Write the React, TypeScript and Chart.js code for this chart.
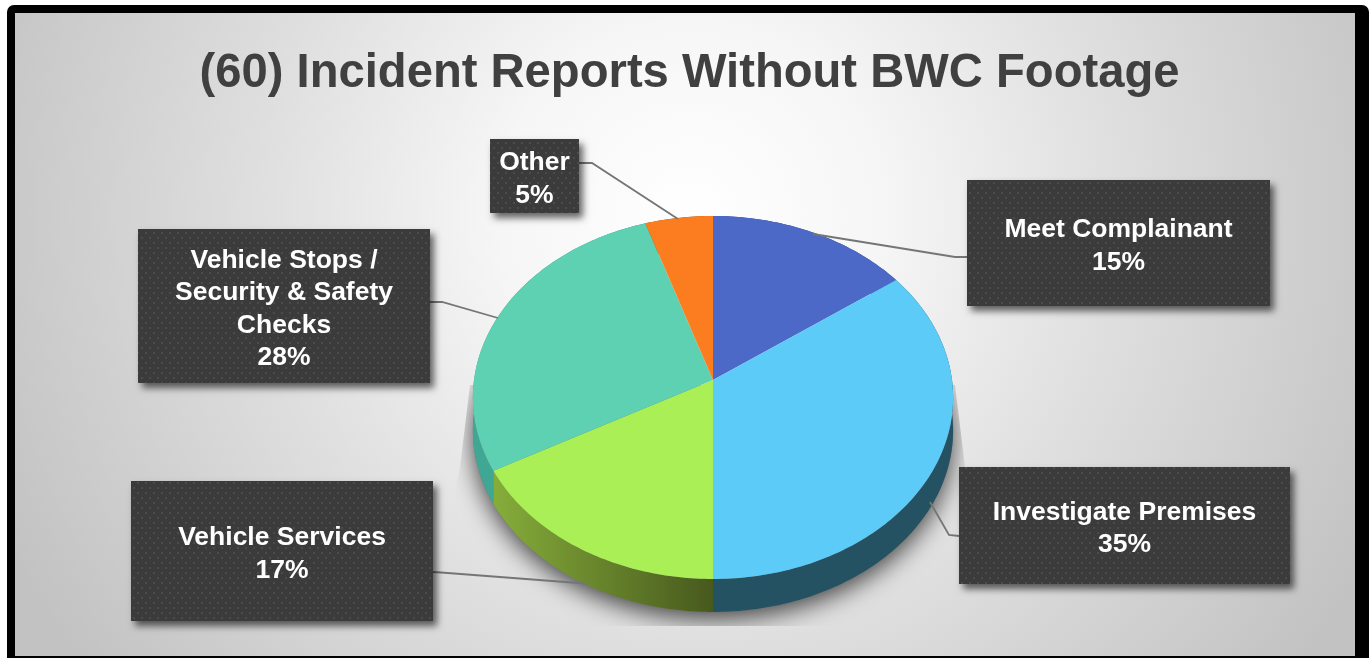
import React, { useEffect, useRef } from "react";
import { Chart, registerables } from "chart.js";

Chart.register(...registerables);

const chartTitle = "(60) Incident Reports Without BWC Footage";
const categories = ["Meet Complainant", "Investigate Premises", "Vehicle Services", "Vehicle Stops / Security & Safety Checks", "Other"];
const percentages = [15, 35, 17, 28, 5];
const categoryLines = [["Meet Complainant"], ["Investigate Premises"], ["Vehicle Services"], ["Vehicle Stops /", "Security & Safety", "Checks"], ["Other"]];
const faceColors = ["#4d69c8", "#5dcbf7", "#aaef55", "#5fd1b3", "#fc7d1f"];
const wallColors = [["#2c3d75", "#2c3d75"], ["#255263", "#255263"], ["#86ad3a", "#47591d"], ["#3fa793", "#2f7f70"], ["#9c4d13", "#9c4d13"]];

// Pixel rectangles of the callout boxes and their leader lines, in slice order.
const calloutBoxes = [
  [967, 180, 303, 126],
  [959, 467, 331, 117],
  [131, 481, 302, 140],
  [138, 229, 292, 154],
  [490, 139, 89, 74],
];
const leaderPaths = [
  [[813, 234], [955, 257], [967, 257]],
  [[930, 502], [949, 535], [959, 536]],
  [[433, 572], [441, 572.5], [585, 583.5]],
  [[430, 302], [442, 302], [498, 318]],
  [[579, 163], [592, 163], [678, 219]],
];

// The disc is tilted: a projective map of the unit circle, so the hub sits above the rim's middle.
const TILT = 0.0964;
const SQUASH = 0.7523;
const WALL_DEPTH = 33;
const FONT = '"Liberation Sans", Arial, sans-serif';

type Pt = [number, number];

function rimPoint(arc: any, angle: number, drop = 0): Pt {
  const u = Math.cos(angle);
  const v = -Math.sin(angle);
  const d = 1 + TILT * v;
  return [arc.x + (arc.outerRadius * u) / d, arc.y - (arc.outerRadius * SQUASH * v) / d + drop];
}

function traceRim(ctx: CanvasRenderingContext2D, arc: any, a: number, b: number, drop: number, first: boolean) {
  const steps = Math.max(4, Math.ceil(Math.abs(b - a) * 60));
  for (let i = 0; i <= steps; i++) {
    const p = rimPoint(arc, a + ((b - a) * i) / steps, drop);
    if (first && i === 0) ctx.moveTo(p[0], p[1]);
    else ctx.lineTo(p[0], p[1]);
  }
}

function dotPattern(ctx: CanvasRenderingContext2D) {
  const tile = document.createElement("canvas");
  tile.width = 8;
  tile.height = 10;
  const t = tile.getContext("2d")!;
  t.fillStyle = "#3b3b3b";
  t.fillRect(0, 0, 8, 10);
  t.fillStyle = "#4b4b4b";
  t.fillRect(1, 2, 2, 2);
  t.fillRect(5, 7, 2, 2);
  return ctx.createPattern(tile, "repeat")!;
}

const tiltedPie = {
  id: "tiltedPie",
  beforeDraw(chart: any) {
    const { ctx, width, height } = chart;
    ctx.save();
    ctx.fillStyle = "#ffffff";
    ctx.fillRect(0, 0, width, height);
    ctx.fillStyle = "#000000";
    ctx.beginPath();
    ctx.roundRect(7, 5, width - 7, height - 5, [7, 7, 0, 0]);
    ctx.fill();
    const g = ctx.createRadialGradient(690, 215, 0, 690, 215, 760);
    g.addColorStop(0, "#ffffff");
    g.addColorStop(0.25, "#f6f6f6");
    g.addColorStop(0.55, "#e0e0e0");
    g.addColorStop(1, "#c2c2c2");
    ctx.fillStyle = g;
    ctx.fillRect(15, 13, 1340, 643);

    ctx.fillStyle = "#404040";
    ctx.font = `bold 47.2px ${FONT}`;
    ctx.textAlign = "center";
    ctx.textBaseline = "middle";
    ctx.fillText(chartTitle, 689.5, 73.5);
    ctx.restore();
  },
  beforeDatasetsDraw(chart: any) {
    const { ctx } = chart;
    const arcs = chart.getDatasetMeta(0).data;
    const hub = arcs[0];
    const full = Math.PI * 2;

    // Soft cast shadow, cut off by its own sharp-edged frame.
    ctx.save();
    ctx.beginPath();
    [[470, 385], [955, 385], [965, 467], [995, 626], [430, 626], [460, 467]].forEach((p, i) =>
      i ? ctx.lineTo(p[0], p[1]) : ctx.moveTo(p[0], p[1])
    );
    ctx.closePath();
    ctx.clip();
    ctx.shadowColor = "rgba(0,0,0,0.7)";
    ctx.shadowBlur = 24;
    ctx.shadowOffsetY = 7;
    ctx.fillStyle = "#777777";
    ctx.beginPath();
    traceRim(ctx, hub, 0, full, WALL_DEPTH, true);
    ctx.closePath();
    ctx.fill();
    ctx.restore();

    // Side walls, then the top faces over them.
    arcs.forEach((arc: any, i: number) => {
      const a = rimPoint(arc, arc.startAngle);
      const b = rimPoint(arc, arc.endAngle);
      const g = ctx.createLinearGradient(Math.min(a[0], b[0]), 0, Math.max(a[0], b[0]), 0);
      g.addColorStop(0, wallColors[i][0]);
      g.addColorStop(1, wallColors[i][1]);
      ctx.fillStyle = g;
      ctx.beginPath();
      traceRim(ctx, arc, arc.startAngle, arc.endAngle, 0, true);
      traceRim(ctx, arc, arc.endAngle, arc.startAngle, WALL_DEPTH, false);
      ctx.closePath();
      ctx.fill();
    });
    arcs.forEach((arc: any, i: number) => {
      ctx.fillStyle = faceColors[i];
      ctx.beginPath();
      ctx.moveTo(arc.x, arc.y);
      traceRim(ctx, arc, arc.startAngle, arc.endAngle, 0, false);
      ctx.closePath();
      ctx.fill();
    });

    ctx.save();
    ctx.strokeStyle = "#757575";
    ctx.lineWidth = 1.8;
    leaderPaths.forEach((path) => {
      ctx.beginPath();
      path.forEach((p, i) => (i ? ctx.lineTo(p[0], p[1]) : ctx.moveTo(p[0], p[1])));
      ctx.stroke();
    });
    ctx.restore();

    // Callouts with the dotted fill.
    const dots = dotPattern(ctx);
    calloutBoxes.forEach((box, i) => {
      const [x, y, w, h] = box;
      ctx.save();
      ctx.shadowColor = "rgba(0,0,0,0.6)";
      ctx.shadowBlur = 7;
      ctx.shadowOffsetX = 4;
      ctx.shadowOffsetY = 5;
      ctx.fillStyle = "#3b3b3b";
      ctx.fillRect(x, y, w, h);
      ctx.restore();
      ctx.fillStyle = dots;
      ctx.fillRect(x, y, w, h);

      const lines = [...categoryLines[i], `${percentages[i]}%`];
      const step = 32.5;
      const mid = y + h / 2 + 3;
      ctx.fillStyle = "#ffffff";
      ctx.font = `bold 26.5px ${FONT}`;
      ctx.textAlign = "center";
      ctx.textBaseline = "middle";
      lines.forEach((line, j) => {
        ctx.fillText(line, x + w / 2, mid + (j - (lines.length - 1) / 2) * step);
      });
    });
    return false;
  },
};

export default function App() {
  const ref = useRef<HTMLCanvasElement>(null);
  useEffect(() => {
    const chart = new Chart(ref.current!, {
      type: "pie",
      data: {
        labels: categories,
        datasets: [{ data: percentages, backgroundColor: faceColors, borderWidth: 0 }],
      },
      options: {
        animation: false,
        responsive: false,
        layout: { padding: { left: 474, right: 417, top: 141, bottom: 39 } },
        plugins: { legend: { display: false }, tooltip: { enabled: false }, title: { display: false } },
      },
      plugins: [tiltedPie],
    } as any);
    return () => chart.destroy();
  }, []);
  return (
    <div style={{ position: "fixed", left: 0, top: 0, width: 1369, height: 658 }}>
      <canvas ref={ref} width={1369} height={658} style={{ display: "block" }} />
    </div>
  );
}
